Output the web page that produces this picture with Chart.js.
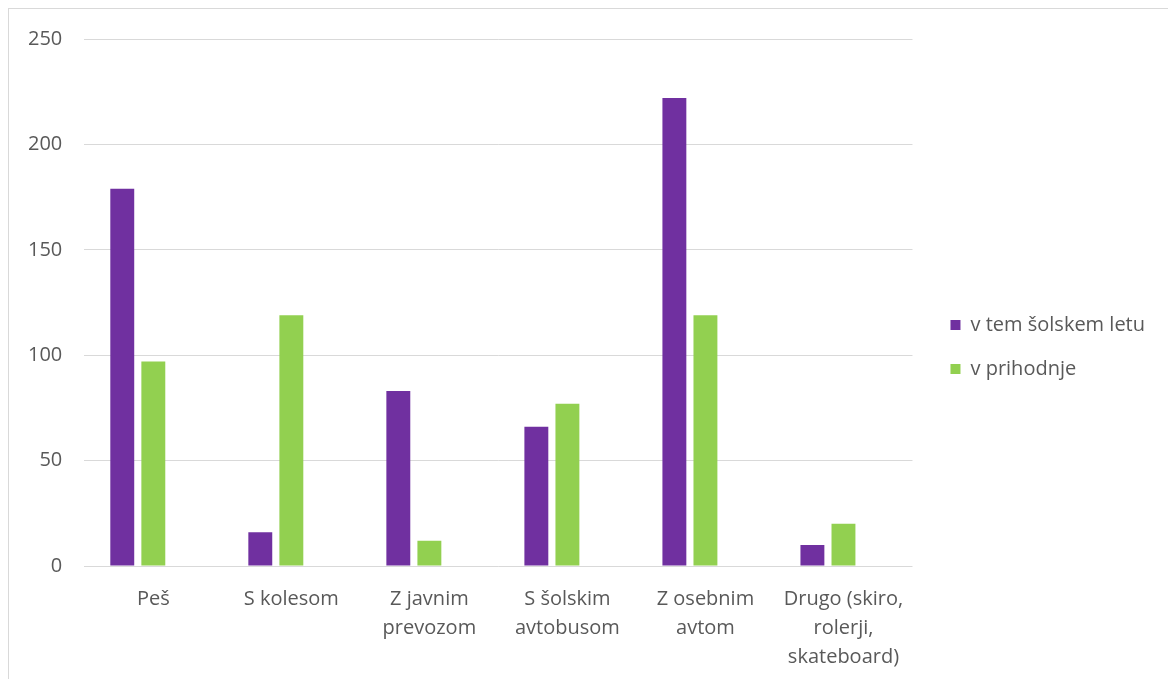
<!DOCTYPE html>
<html>
<head>
<meta charset="utf-8">
<script src="https://cdn.jsdelivr.net/npm/chart.js@4"></script>
<style>
  html, body { margin: 0; padding: 0; background: #fff; }
  #wrap { position: relative; width: 1168px; height: 679px; overflow: hidden; }
  #frame { position: absolute; left: 8px; top: 8px; width: 1200px; height: 700px; border: 1px solid #d9d9d9; box-sizing: border-box; }
  #box { position: absolute; left: 0; top: 0; width: 1168px; height: 683px; }
</style>
</head>
<body>
<div id="wrap">
  <div id="frame"></div>
  <div id="box"><canvas id="BarChart"></canvas></div>
</div>
<script>
  const categories = [
    "Peš",
    "S kolesom",
    ["Z javnim", "prevozom"],
    ["S šolskim", "avtobusom"],
    ["Z osebnim", "avtom"],
    ["Drugo (skiro,", "rolerji,", "skateboard)"],
  ];
  const thisYear = [179, 16, 83, 66, 222, 10];
  const future = [97, 119, 12, 77, 119, 20];
  // the source sheet has a third, empty series that still takes a slot
  const emptySeries = [null, null, null, null, null, null];
  const seriesNames = ["v tem šolskem letu", "v prihodnje", ""];
  const colorTemp = ["#7030a0", "#92d050", "#a5a5a5"];

  const fontFamily = "'Open Sans', 'Noto Sans', sans-serif";
  const textColor = "#595959";
  const gridColor = "#d9d9d9";

  const legendExtra = 17;
  const legendShift = 14;
  const legendLift = 14;

  // widen the space between plot and legend without spreading the legend rows
  const legendGapPlugin = {
    id: "legendGap",
    beforeLayout(chart) {
      const legend = chart.legend;
      if (!legend || legend._gapPatched) return;
      const fit = legend.fit;
      legend.fit = function () {
        fit.call(this);
        this.width += legendExtra;
      };
      legend._gapPatched = true;
    },
    afterLayout(chart) {
      if (!chart.legend) return;
      chart.legend.left += legendShift;
      chart.legend.top -= legendLift;
      chart.legend.bottom -= legendLift;
    },
  };

  function getDataSetItemConfig(data, index) {
    return {
      label: seriesNames[index],
      data: data,
      backgroundColor: colorTemp[index],
      categoryPercentage: 0.675,
      barPercentage: 0.77,
    };
  }

  const chartConfig = {
    type: "bar",
    data: {
      labels: categories,
      datasets: [thisYear, future, emptySeries].map(getDataSetItemConfig),
    },
    plugins: [legendGapPlugin],
    options: {
      responsive: true,
      maintainAspectRatio: false,
      animation: false,
      layout: {
        padding: {
          top: 39,
          left: 6,
          right: 10,
          bottom: 0,
        },
      },
      scales: {
        x: {
          grid: {
            display: false,
          },
          border: {
            display: false,
          },
          ticks: {
            color: textColor,
            padding: 11,
            maxRotation: 0,
            autoSkip: false,
            font: {
              family: fontFamily,
              size: 20,
              lineHeight: 1.45,
            },
          },
        },
        y: {
          min: 0,
          max: 250,
          ticks: {
            stepSize: 50,
            padding: 22,
            color: textColor,
            font: {
              family: fontFamily,
              size: 20,
            },
          },
          grid: {
            color: gridColor,
            lineWidth: 1,
            drawTicks: false,
          },
          border: {
            display: false,
          },
        },
      },
      plugins: {
        legend: {
          position: "right",
          labels: {
            boxWidth: 10,
            boxHeight: 10,
            padding: 24,
            color: textColor,
            font: {
              family: fontFamily,
              size: 20,
            },
            filter: (item) => item.text !== "",
          },
        },
        tooltip: {
          enabled: false,
        },
      },
    },
  };

  const ctx = document.getElementById("BarChart");
  new Chart(ctx, chartConfig);
</script>
</body>
</html>
